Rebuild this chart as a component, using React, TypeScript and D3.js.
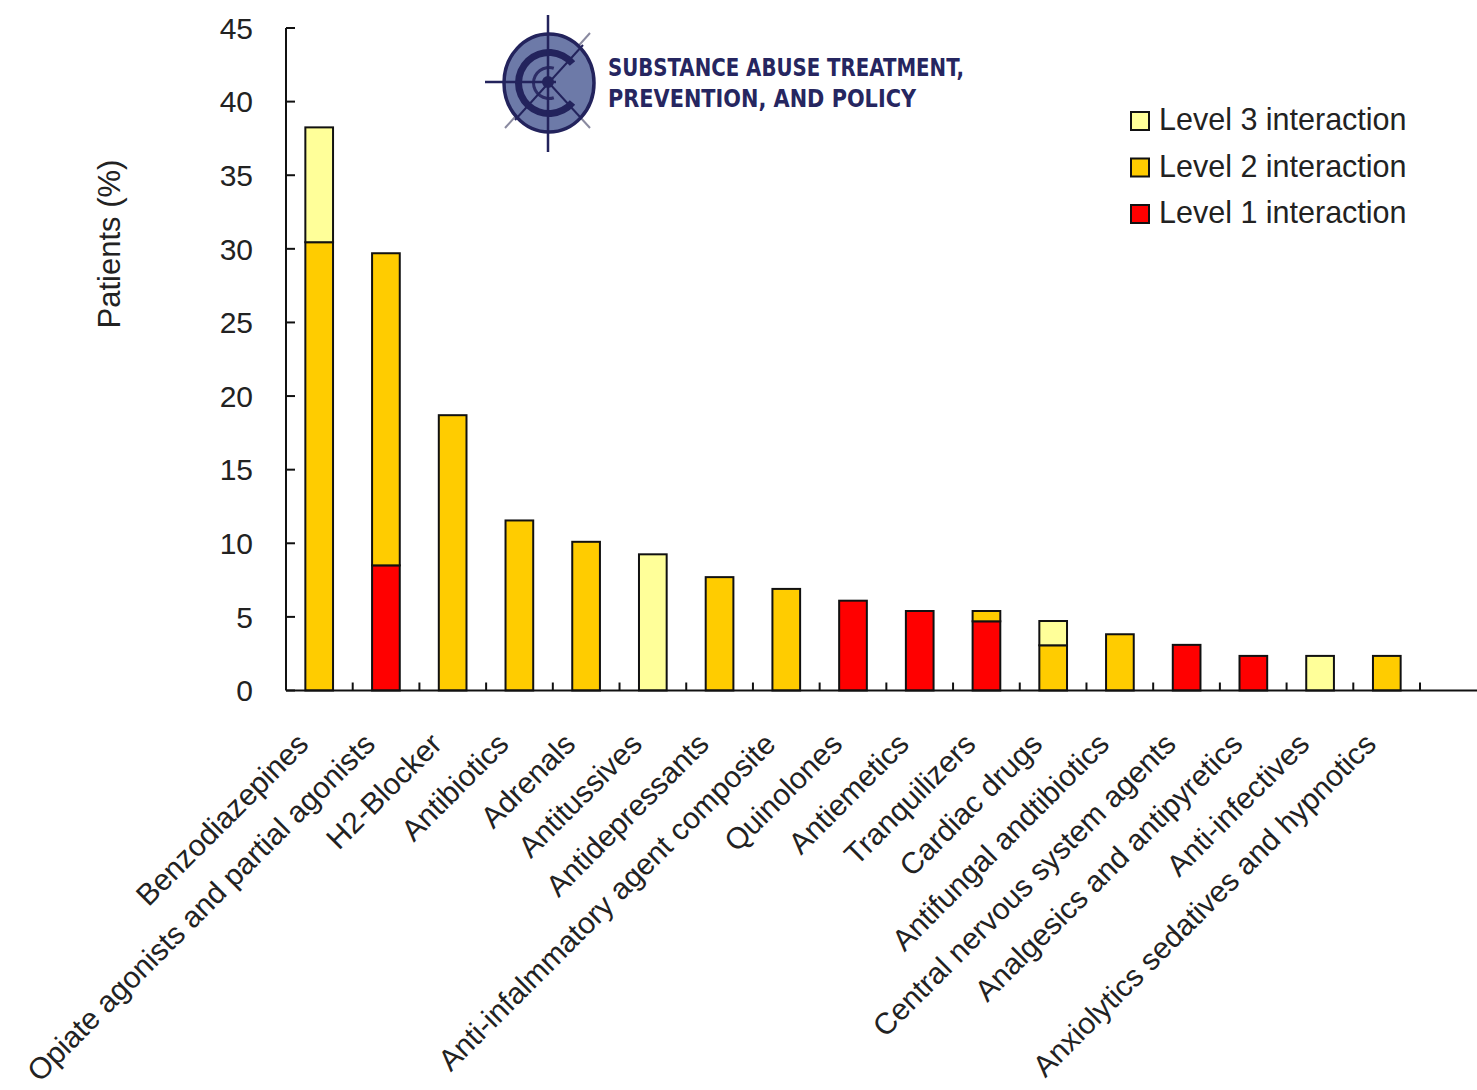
import React from "react";
import * as d3 from "d3";

const categories = [
  "Benzodiazepines",
  "Opiate agonists and partial agonists",
  "H2-Blocker",
  "Antibiotics",
  "Adrenals",
  "Antitussives",
  "Antidepressants",
  "Anti-infalmmatory agent composite",
  "Quinolones",
  "Antiemetics",
  "Tranquilizers",
  "Cardiac drugs",
  "Antifungal andtibiotics",
  "Central nervous system agents",
  "Analgesics and antipyretics",
  "Anti-infectives",
  "Anxiolytics sedatives and hypnotics",
];

const level1 = [0, 8.5, 0, 0, 0, 0, 0, 0, 6.1, 5.4, 4.7, 0, 0, 3.1, 2.35, 0, 0];
const level2 = [30.45, 21.2, 18.7, 11.55, 10.1, 0, 7.7, 6.9, 0, 0, 0.7, 3.07, 3.82, 0, 0, 0, 2.35];
const level3 = [7.8, 0, 0, 0, 0, 9.25, 0, 0, 0, 0, 0, 1.65, 0, 0, 0, 2.35, 0];

const yTicks = [0, 5, 10, 15, 20, 25, 30, 35, 40, 45];

const seriesNames = ["Level 1 interaction", "Level 2 interaction", "Level 3 interaction"];
const seriesColors = ["#FF0000", "#FFCC00", "#FFFF99"];

const FONT = "'Liberation Sans', Arial, sans-serif";

export default function App() {
  const W = 1477;
  const H = 1090;
  const x0 = 286;
  const x1 = 1420;
  const yBase = 690.5;
  const yTop = 28;

  const x = d3.scaleBand<string>().domain(categories).range([x0, x1]).paddingInner(0.585).paddingOuter(0.29);
  const y = d3.scaleLinear().domain([0, 45]).range([yBase, yTop]);

  const table = categories.map((c, i) => ({ cat: c, l1: level1[i], l2: level2[i], l3: level3[i] }));
  const stack = d3.stack<any>().keys(["l1", "l2", "l3"]);
  const stacked = stack(table);

  const boundaries = d3.range(1, categories.length + 1).map((k) => x0 + k * ((x1 - x0) / categories.length));
  const arc = d3.arc();

  return (
    <svg
      width={W}
      height={H}
      style={{ position: "absolute", left: 0, top: 0, background: "#fff" }}
      fontFamily={FONT}
    >
      {/* Logo */}
      <g>
        <line x1={590} y1={33} x2={505} y2={128} stroke="#8a8aa0" strokeWidth={2} />
        <line x1={590} y1={128} x2={549} y2={83} stroke="#8a8aa0" strokeWidth={2} />
        <ellipse cx={549} cy={83} rx={45} ry={49} fill="#6d7aa8" stroke="#23235c" strokeWidth={3.5} />
        <path
          d={arc({ innerRadius: 27, outerRadius: 34, startAngle: Math.PI * 0.72, endAngle: Math.PI * 2.28 }) || ""}
          transform="translate(549,83)"
          fill="#23235c"
        />
        <path
          d={arc({ innerRadius: 14, outerRadius: 17, startAngle: Math.PI * 0.9, endAngle: Math.PI * 2.1 }) || ""}
          transform="translate(549,83)"
          fill="#2d2d66"
        />
        <line x1={583} y1={45} x2={515} y2={120} stroke="#23235c" strokeWidth={2} />
        <line x1={549} y1={83} x2={580} y2={117} stroke="#23235c" strokeWidth={2} />
        <line x1={548} y1={15} x2={548} y2={152} stroke="#23235c" strokeWidth={2.5} />
        <line x1={485} y1={82} x2={556} y2={82} stroke="#23235c" strokeWidth={2.5} />
        <circle cx={548} cy={82} r={6} fill="#23235c" />
        <text
          x={608}
          y={76}
          fontFamily="'Liberation Sans Narrow', 'DejaVu Sans Condensed', 'Liberation Sans', sans-serif"
          fontWeight="bold"
          fontSize={25}
          fill="#262660"
          textLength={356}
          lengthAdjust="spacingAndGlyphs"
        >
          SUBSTANCE ABUSE TREATMENT,
        </text>
        <text
          x={608}
          y={107}
          fontFamily="'Liberation Sans Narrow', 'DejaVu Sans Condensed', 'Liberation Sans', sans-serif"
          fontWeight="bold"
          fontSize={25}
          fill="#262660"
          textLength={308}
          lengthAdjust="spacingAndGlyphs"
        >
          PREVENTION, AND POLICY
        </text>
      </g>

      {/* Bars */}
      {stacked.map((s, si) => (
        <g key={si}>
          {s.map((d: any, i: number) =>
            d[1] - d[0] > 0 ? (
              <rect
                key={i}
                x={x(categories[i])}
                y={y(d[1])}
                width={x.bandwidth()}
                height={y(d[0]) - y(d[1])}
                fill={seriesColors[si]}
                stroke="#111"
                strokeWidth={2}
              />
            ) : null
          )}
        </g>
      ))}

      {/* Y axis */}
      <line x1={x0} y1={yBase} x2={x0} y2={yTop} stroke="#111" strokeWidth={2} />
      {yTicks.map((t) => (
        <g key={t}>
          <line x1={x0} x2={x0 + 9} y1={y(t)} y2={y(t)} stroke="#111" strokeWidth={2} />
          <text x={253} y={y(t)} dy="0.36em" textAnchor="end" fontSize={30} fill="#222">
            {t}
          </text>
        </g>
      ))}
      <text
        transform={`translate(120,244) rotate(-90)`}
        textAnchor="middle"
        fontSize={31}
        fill="#222"
      >
        Patients (%)
      </text>

      {/* X axis */}
      <line x1={x0} y1={yBase} x2={W} y2={yBase} stroke="#111" strokeWidth={2} />
      {boundaries.map((b, i) => (
        <line key={i} x1={b} x2={b} y1={yBase} y2={yBase - 8} stroke="#111" strokeWidth={2} />
      ))}
      {categories.map((c) => {
        const cx = (x(c) as number) + x.bandwidth() / 2;
        return (
          <text
            key={c}
            transform={`translate(${cx - 9},746) rotate(-45)`}
            textAnchor="end"
            fontSize={30}
            fill="#222"
          >
            {c}
          </text>
        );
      })}

      {/* Legend */}
      {[2, 1, 0].map((si, row) => (
        <g key={si} transform={`translate(1131,${112 + row * 46.5})`}>
          <rect x={0} y={0} width={18} height={18} fill={seriesColors[si]} stroke="#111" strokeWidth={2} />
          <text x={28} y={18} fontSize={30.5} fill="#222">
            {seriesNames[si]}
          </text>
        </g>
      ))}
    </svg>
  );
}
